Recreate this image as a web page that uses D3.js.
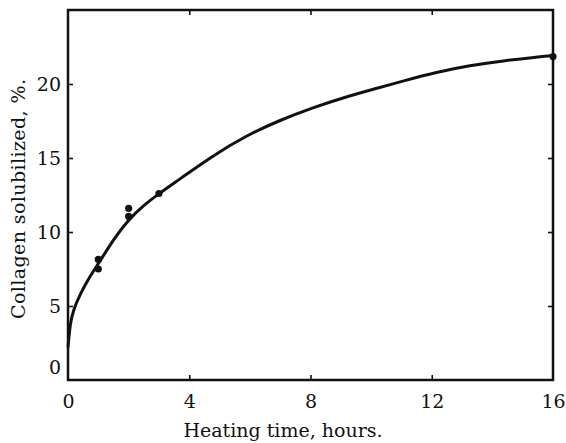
<!DOCTYPE html>
<html>
<head>
<meta charset="utf-8">
<script src="https://cdn.jsdelivr.net/npm/d3@7"></script>
<style>
  body { margin: 0; background: #fff; }
  text { font-family: "DejaVu Serif", "Liberation Serif", serif; fill: #111; }
</style>
</head>
<body>
<svg id="chart" width="566" height="443"></svg>
<script>
// measured points
var hoursPts = [1, 1, 2, 2, 3, 16];
var solubPts = [8.15, 7.5, 11.6, 11.05, 12.6, 21.85];

// the drawn fit curve
var curveHours = [0, 0.07, 0.17, 0.4, 0.72, 1, 1.5, 2, 2.5, 3, 3.67, 4.77, 5.87, 6.98, 8.08, 9.18, 10.28, 11.05, 12.16, 13.26, 14.36, 15.46, 16];
var curveSolub = [2.2, 3.8, 4.7, 5.8, 7.0, 7.85, 9.5, 10.85, 11.8, 12.6, 13.55, 15.15, 16.5, 17.55, 18.4, 19.15, 19.75, 20.2, 20.8, 21.25, 21.57, 21.82, 21.92];

var xTicks = [0, 4, 8, 12, 16];
var yTicks = [0, 5, 10, 15, 20];

// plot box (window.top is taken, so prefixed names)
var pLeft = 68, pRight = 553, pTop = 10, pBottom = 380;

var svg = d3.select("#chart");

var x = d3.scaleLinear().domain([0, 16]).range([pLeft, pRight]);
var y = d3.scaleLinear().domain([0, 25]).range([pBottom, pTop]);

// frame
svg.append("rect")
    .attr("x", pLeft).attr("y", pTop)
    .attr("width", pRight - pLeft).attr("height", pBottom - pTop)
    .attr("fill", "none").attr("stroke", "#111").attr("stroke-width", 2.5);

// bottom axis
var gx = svg.append("g")
    .attr("transform", "translate(0," + pBottom + ")")
    .call(d3.axisBottom(x).tickValues(xTicks).tickSize(-5).tickSizeOuter(0).tickPadding(15));

// left axis
var gy = svg.append("g")
    .attr("transform", "translate(" + pLeft + ",0)")
    .call(d3.axisLeft(y).tickValues(yTicks).tickSize(-5).tickSizeOuter(0).tickPadding(7));

// top + right just ticks
var gt = svg.append("g")
    .attr("transform", "translate(0," + pTop + ")")
    .call(d3.axisTop(x).tickValues(xTicks).tickSize(-5).tickSizeOuter(0).tickFormat(""));
var gr = svg.append("g")
    .attr("transform", "translate(" + pRight + ",0)")
    .call(d3.axisRight(y).tickValues(yTicks).tickSize(-5).tickSizeOuter(0).tickFormat(""));

[gx, gy, gt, gr].forEach(function(g) {
    g.select(".domain").remove();
    g.selectAll("line").attr("stroke", "#111").attr("stroke-width", 1.6);
    g.selectAll("text").attr("font-size", 19).attr("font-family", "DejaVu Serif").attr("fill", "#111");
});

// corner ticks sit on the frame anyway
gx.selectAll(".tick").filter(function(d) { return d === 0 || d === 16; }).select("line").remove();
gy.selectAll(".tick").filter(function(d) { return d === 0; }).select("line").remove();
gt.selectAll(".tick").filter(function(d) { return d === 0 || d === 16; }).select("line").remove();
gr.selectAll(".tick").filter(function(d) { return d === 0; }).select("line").remove();
// 0 on y axis was set a bit higher in the original
gy.selectAll(".tick").filter(function(d) { return d === 0; }).select("text").attr("dy", "-0.35em");

// curve
var line = d3.line()
    .x(function(d) { return x(d[0]); })
    .y(function(d) { return y(d[1]); })
    .curve(d3.curveBasis);

svg.append("path")
    .datum(d3.zip(curveHours, curveSolub))
    .attr("d", line)
    .attr("fill", "none")
    .attr("stroke", "#111")
    .attr("stroke-width", 3);

// points
svg.selectAll(".pt")
    .data(d3.zip(hoursPts, solubPts))
    .enter()
    .append("circle")
    .attr("class", "pt")
    .attr("cx", function(d) { return x(d[0]); })
    .attr("cy", function(d) { return y(d[1]); })
    .attr("r", 3.6)
    .attr("fill", "#111");

// axis titles
svg.append("text")
    .attr("x", 283).attr("y", 437)
    .attr("text-anchor", "middle")
    .attr("font-size", 19)
    .text("Heating time, hours.");

svg.append("text")
    .attr("transform", "translate(25,199) rotate(-90)")
    .attr("text-anchor", "middle")
    .attr("font-size", 19)
    .attr("textLength", 240)
    .text("Collagen solubilized, %.");
</script>
</body>
</html>
